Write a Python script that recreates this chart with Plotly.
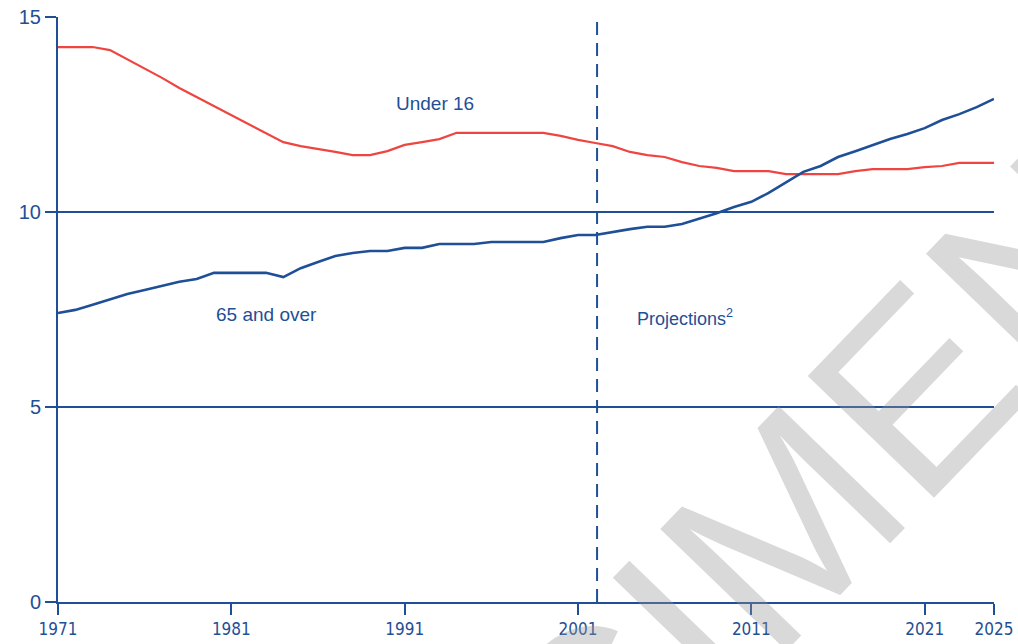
import plotly.graph_objects as go

years = list(range(1971, 2026))

under_16 = [14.23, 14.23, 14.23, 14.15, 13.92, 13.69, 13.44, 13.18, 12.95, 12.72,
            12.49, 12.26, 12.03, 11.79, 11.69, 11.62, 11.54, 11.46, 11.46, 11.56,
            11.72, 11.79, 11.87, 12.03, 12.03, 12.03, 12.03, 12.03, 12.03, 11.95,
            11.85, 11.77, 11.69, 11.54, 11.46, 11.41, 11.28, 11.18, 11.13, 11.05,
            11.05, 11.05, 10.97, 10.97, 10.97, 10.97, 11.05, 11.10, 11.10, 11.10,
            11.15, 11.18, 11.26, 11.26, 11.26]

over_65 = [7.41, 7.49, 7.62, 7.77, 7.90, 8.00, 8.10, 8.21, 8.28, 8.44,
           8.44, 8.44, 8.44, 8.33, 8.56, 8.72, 8.87, 8.95, 9.00, 9.00,
           9.08, 9.08, 9.18, 9.18, 9.18, 9.23, 9.23, 9.23, 9.23, 9.33,
           9.41, 9.41, 9.49, 9.56, 9.62, 9.62, 9.69, 9.82, 9.97, 10.13,
           10.26, 10.49, 10.77, 11.03, 11.18, 11.41, 11.56, 11.72, 11.87, 12.00,
           12.15, 12.36, 12.51, 12.69, 12.90]

x_ticks = [1971, 1981, 1991, 2001, 2011, 2021, 2025]
y_ticks = [0, 5, 10, 15]
projection_start = 2002.1

BLUE = "#1f4f96"
RED = "#ef4540"
FONT = "Liberation Sans"
NARROW = "Liberation Sans Narrow, DejaVu Sans Condensed, Liberation Sans, sans-serif"

fig = go.Figure()

fig.add_trace(go.Scatter(x=years, y=under_16, mode="lines", name="Under 16",
                         line=dict(color=RED, width=2.2), showlegend=False))
fig.add_trace(go.Scatter(x=years, y=over_65, mode="lines", name="65 and over",
                         line=dict(color=BLUE, width=2.6), showlegend=False))

fig.add_shape(type="line", xref="x", yref="y", x0=projection_start, x1=projection_start,
              y0=0, y1=15, line=dict(color=BLUE, width=2, dash="13px,8px"), layer="above")

fig.add_annotation(x=1992.75, y=12.77, xref="x", yref="y", text="Under 16", showarrow=False,
                   font=dict(family=FONT, size=19, color=BLUE))
fig.add_annotation(x=1983.0, y=7.36, xref="x", yref="y", text="65 and over", showarrow=False,
                   font=dict(family=FONT, size=19, color=BLUE))
fig.add_annotation(x=2007.2, y=7.3, xref="x", yref="y", text="Projections<sup>2</sup>",
                   showarrow=False, font=dict(family=FONT, size=18, color=BLUE))

# watermark
fig.add_annotation(x=0.621, y=-0.125, xref="paper", yref="paper", text="SPECIMEN",
                   showarrow=False, textangle=-46, xanchor="center", yanchor="middle",
                   font=dict(family=FONT, size=255, color="rgba(150,150,150,0.36)"))

fig.update_layout(
    width=1018, height=644,
    margin=dict(l=58, r=24, t=17, b=42, autoexpand=False),
    paper_bgcolor="white", plot_bgcolor="white",
    font=dict(family=FONT, color=BLUE),
)

fig.update_xaxes(range=[1971, 2025], tickvals=x_ticks, ticktext=[str(v) for v in x_ticks],
                 automargin=False,
                 showgrid=False, zeroline=False, showline=True, linecolor=BLUE, linewidth=2,
                 ticks="outside", ticklen=11, tickwidth=1.5, tickcolor=BLUE,
                 tickfont=dict(family=NARROW, size=17, color=BLUE))
fig.update_yaxes(range=[0, 15], tickvals=y_ticks, automargin=False,
                 showgrid=True, gridcolor=BLUE, gridwidth=1.6,
                 zeroline=False, showline=True, linecolor=BLUE, linewidth=2,
                 ticks="outside", ticklen=11, tickwidth=1.5, tickcolor=BLUE,
                 tickfont=dict(family=FONT, size=20, color=BLUE))

fig.write_html("out.html", config={"displayModeBar": False},
               post_script="document.body.style.margin='0';document.body.style.overflow='hidden';")
